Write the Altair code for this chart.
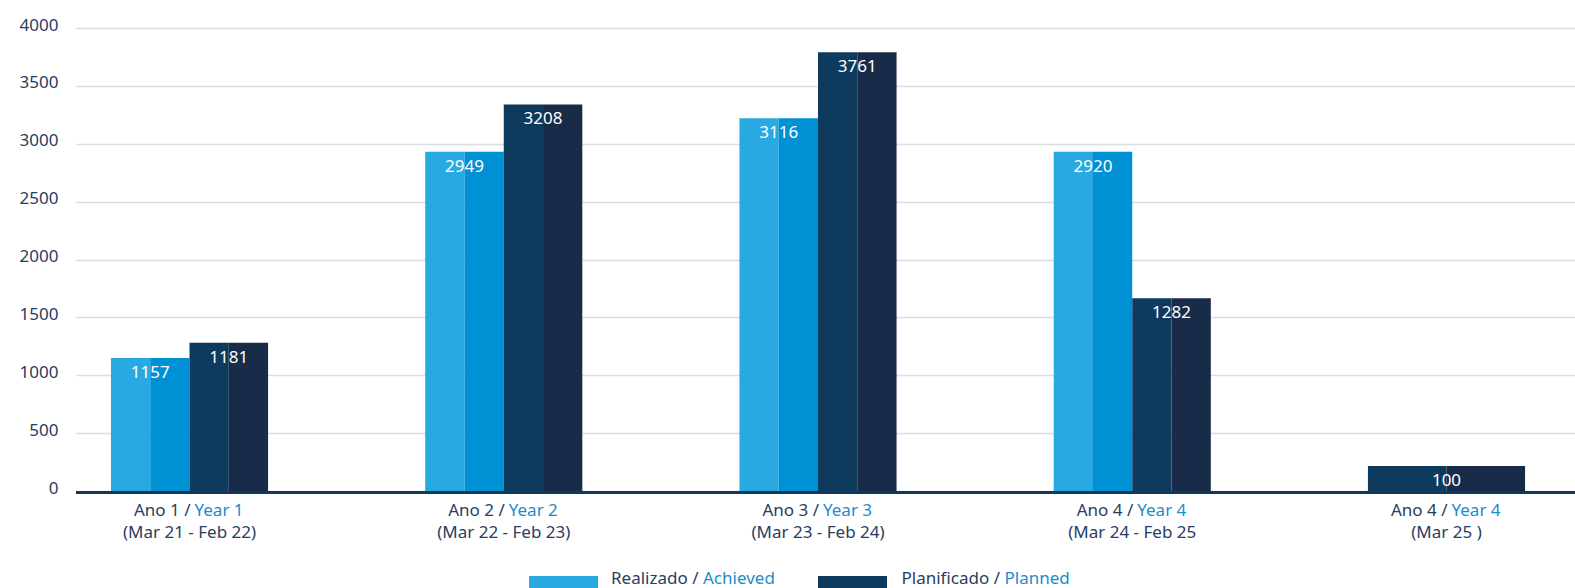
import altair as alt
import pandas as pd

# ---- data ----
group_pt = ["Ano 1 /", "Ano 2 /", "Ano 3 /", "Ano 4 /", "Ano 4 /"]
group_en = ["Year 1", "Year 2", "Year 3", "Year 4", "Year 4"]
periods = ["(Mar 21 - Feb 22)", "(Mar 22 - Feb 23)", "(Mar 23 - Feb 24)",
           "(Mar 24 - Feb 25", "(Mar 25 )"]
# value labels printed on the bars
achieved_labels = [1157, 2949, 3116, 2920, None]
planned_labels = [1181, 3208, 3761, 1282, 100]
# bar heights as drawn in the picture (read against the y axis)
achieved_bars = [1150, 2930, 3220, 2930, None]
planned_bars = [1280, 3340, 3790, 1665, 215]
y_ticks = [0, 500, 1000, 1500, 2000, 2500, 3000, 3500, 4000]

# ---- style ----
FONT = "Noto Sans"
NAVY_TXT = "#2a3d5f"
BLUE_TXT = "#1a8dcb"
half_colors = {"R0": "#29a9e1", "R1": "#0090d4", "P0": "#0e3a5e", "P1": "#182b48"}
W, H = 1499, 463
GROUP_W = 0.5  # fraction of a category step occupied by a group
X_DOMAIN = [-0.3612, 4.4089]

# ---- build tables ----
bar_rows, label_rows = [], []
for i in range(len(planned_labels)):
    present = [(s, b, l) for s, b, l in (("R", achieved_bars[i], achieved_labels[i]),
                                         ("P", planned_bars[i], planned_labels[i]))
               if l is not None]
    n = len(present)
    sw = GROUP_W / n
    for k, (s, b, l) in enumerate(present):
        left = i - GROUP_W / 2 + k * sw
        for h in range(2):
            bar_rows.append({"x0": left + h * sw / 2, "x1": left + (h + 1) * sw / 2,
                             "value": b, "part": f"{s}{h}"})
        label_rows.append({"xc": left + sw / 2, "value": b, "label": str(l)})
bars_df = pd.DataFrame(bar_rows)
labels_df = pd.DataFrame(label_rows)
cats_df = pd.DataFrame({"i": list(range(len(planned_labels))), "pt": group_pt,
                        "en": group_en, "period": periods})

x_scale = alt.Scale(domain=X_DOMAIN, nice=False, zero=False)
x_axis = None
y_scale = alt.Scale(domain=[0, 4000], nice=False)
y_axis = alt.Axis(values=y_ticks, format="d", domain=False, ticks=False, grid=True,
                  gridColor="#dcdce3", gridWidth=1.5, labelFontSize=17,
                  labelColor=NAVY_TXT, labelPadding=18, labelOffset=-3,
                  labelFont=FONT, title=None)

bars = alt.Chart(bars_df).mark_rect().encode(
    x=alt.X("x0:Q", scale=x_scale, axis=x_axis),
    x2="x1:Q",
    y=alt.Y("value:Q", scale=y_scale, axis=y_axis),
    y2=alt.datum(0),
    color=alt.Color("part:N", scale=alt.Scale(domain=list(half_colors.keys()),
                                              range=list(half_colors.values())),
                    legend=None),
)

baseline = alt.Chart(alt.Data(values=[{"v": 0}])).mark_rule(
    color="#0e3a5e", strokeWidth=3
).encode(x=alt.value(0), x2=alt.value(W), y=alt.value(H + 1.5))

values = alt.Chart(labels_df).mark_text(
    color="white", fontSize=17, font=FONT, baseline="middle", dy=15
).encode(
    x=alt.X("xc:Q", scale=x_scale, axis=x_axis),
    y=alt.Y("value:Q", scale=y_scale, axis=y_axis),
    text="label:N",
)

cat_pt = alt.Chart(cats_df).mark_text(
    color=NAVY_TXT, fontSize=17, font=FONT, align="right", baseline="middle", dx=1
).encode(x=alt.X("i:Q", scale=x_scale, axis=x_axis), y=alt.value(H + 19.5), text="pt:N")
cat_en = alt.Chart(cats_df).mark_text(
    color=BLUE_TXT, fontSize=17, font=FONT, align="left", baseline="middle", dx=5
).encode(x=alt.X("i:Q", scale=x_scale, axis=x_axis), y=alt.value(H + 19.5), text="en:N")
cat_period = alt.Chart(cats_df).mark_text(
    color=NAVY_TXT, fontSize=17, font=FONT, align="center", baseline="middle"
).encode(x=alt.X("i:Q", scale=x_scale, axis=x_axis), y=alt.value(H + 42), text="period:N")

# ---- custom legend (two-tone text) ----
one = alt.Data(values=[{}])
LEG_Y = 551

def swatch(x1, x2, color):
    return alt.Chart(one).mark_rect(color=color).encode(
        x=alt.value(x1), x2=alt.value(x2), y=alt.value(LEG_Y - 3), y2=alt.value(LEG_Y + 11))

def leg_text(x, text, color, align):
    return alt.Chart(one).mark_text(
        text=text, color=color, fontSize=17, font=FONT, align=align, baseline="middle"
    ).encode(x=alt.value(x), y=alt.value(LEG_Y))

legend = [
    swatch(453, 522, "#29a9e1"),
    leg_text(622.5, "Realizado /", NAVY_TXT, "right"),
    leg_text(627, "Achieved", BLUE_TXT, "left"),
    swatch(742, 811, "#0e3a5e"),
    leg_text(924, "Planificado /", NAVY_TXT, "right"),
    leg_text(928.5, "Planned", BLUE_TXT, "left"),
]

chart = alt.layer(bars, baseline, values, cat_pt, cat_en, cat_period, *legend).properties(
    width=W, height=H,
    padding={"left": 76, "top": 28, "right": 0, "bottom": 97},
    autosize=alt.AutoSizeParams(type="none"),
).configure(font=FONT).configure_view(stroke=None).configure_axisX(
    domain=False, grid=False, ticks=False, labels=False
)

chart.save("out.html", embed_options={"renderer": "svg", "actions": False})
